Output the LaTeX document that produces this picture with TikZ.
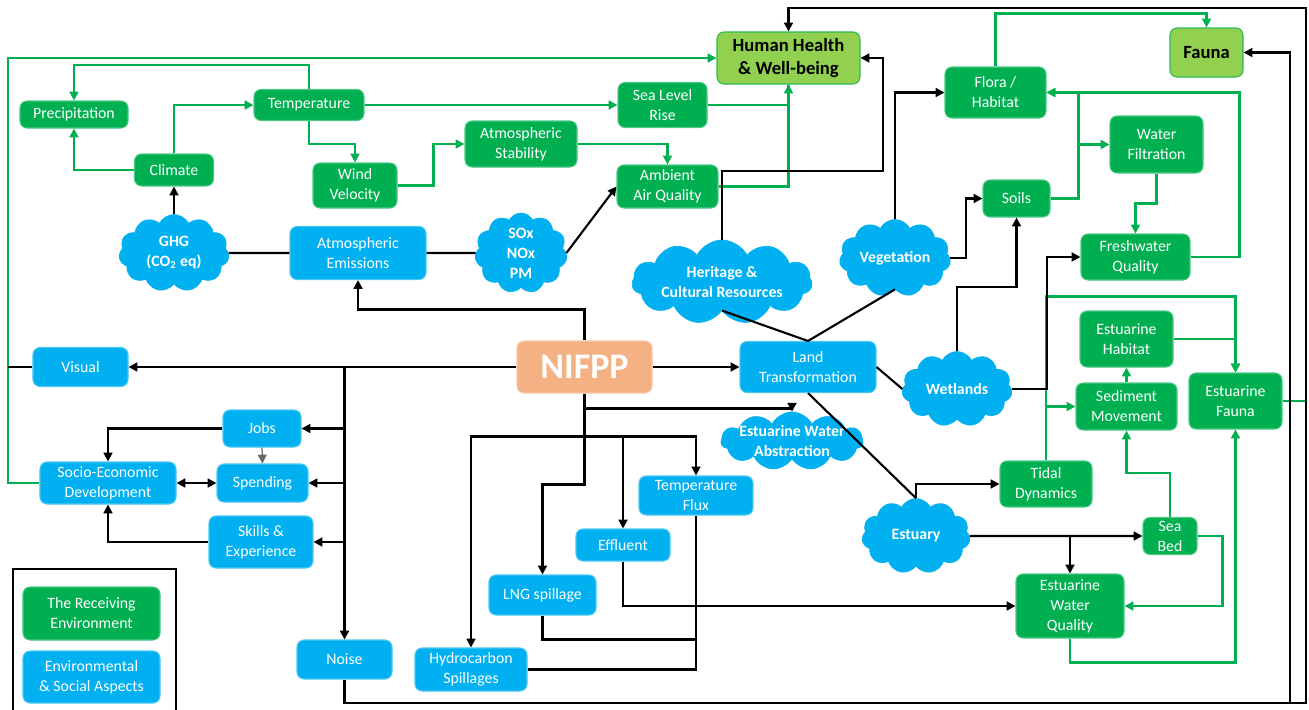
\documentclass[tikz,border=0pt]{standalone}
\usepackage{fontspec}
\setmainfont{Carlito}
\usetikzlibrary{arrows.meta,shapes.symbols}

\definecolor{gruen}{RGB}{0,176,80}
\definecolor{hellgruen}{RGB}{146,208,80}
\definecolor{blau}{RGB}{0,176,240}
\definecolor{lachs}{RGB}{244,177,131}

\tikzset{
	kasten/.style={rounded corners=1.4mm, align=center, text=white, inner sep=1pt, line width=0.6pt, font=\fontsize{9}{11.4}\selectfont},
	gbox/.style={kasten, fill=gruen, draw=gruen!70!white},
	hbox/.style={kasten, fill=hellgruen, draw=gruen!70!hellgruen, text=black, font=\fontsize{10.6}{13}\selectfont\bfseries},
	bbox/.style={kasten, fill=blau, draw=blau!70!white},
	wolke/.style={cloud, cloud puffs=11, cloud puff arc=125, cloud ignores aspect, fill=blau, draw=blau, inner sep=0pt},
	wtext/.style={text=white, align=center, font=\fontsize{9}{11.4}\selectfont\bfseries},
	pfeil/.style={-{Triangle[length=5pt,width=5pt]}},
	dpfeil/.style={{Triangle[length=5pt,width=5pt]}-{Triangle[length=5pt,width=5pt]}},
	gl/.style={draw=gruen, line width=1.2pt},
	bl/.style={draw=black, line width=1.2pt},
}

\begin{document}
\begin{tikzpicture}[x=0.2mm, y=-0.2mm]
	\useasboundingbox (0,0) rectangle (1309,709);
	\coordinate (leftrail) at (8,0);
	\coordinate (rightrail) at (1306,0);

	% Klima und Luft
	\node[gbox, minimum width=21.6mm, minimum height=5.4mm] (precip) at (74,114.5) {Precipitation};
	\node[gbox, minimum width=22mm, minimum height=6.2mm] (temp) at (309,105) {Temperature};
	\node[gbox, minimum width=15.8mm, minimum height=6.4mm] (climate) at (174,170) {Climate};
	\node[gbox, minimum width=16.8mm, minimum height=9mm] (wind) at (355,185.5) {Wind\\Velocity};
	\node[gbox, minimum width=22.4mm, minimum height=9.2mm] (atmstab) at (521,144) {Atmospheric\\Stability};
	\node[gbox, minimum width=17.8mm, minimum height=9mm] (sealevel) at (662.5,105) {Sea Level\\Rise};
	\node[gbox, minimum width=20.2mm, minimum height=8.6mm] (ambient) at (667.5,186.5) {Ambient\\Air Quality};
	\node[hbox, minimum width=28.6mm, minimum height=10.4mm] (health) at (788.5,58) {Human Health\\\& Well-being};

	% Boden, Wasser, Fauna
	\node[hbox, minimum width=14.6mm, minimum height=9.8mm] (fauna) at (1206.5,52.5) {Fauna};
	\node[gbox, minimum width=20.2mm, minimum height=10.2mm] (flora) at (995.5,92.5) {Flora /\\Habitat};
	\node[gbox, minimum width=18.6mm, minimum height=11.4mm] (waterfilt) at (1156.5,144.5) {Water\\Filtration};
	\node[gbox, minimum width=13.4mm, minimum height=7.4mm] (soils) at (1016.5,198.5) {Soils};
	\node[gbox, minimum width=21.8mm, minimum height=9.2mm] (freshwater) at (1135.5,257) {Freshwater\\Quality};
	\node[gbox, minimum width=18.6mm, minimum height=11.2mm] (esthab) at (1126.5,339) {Estuarine\\Habitat};
	\node[gbox, minimum width=20.2mm, minimum height=9.4mm] (sediment) at (1126.5,406.5) {Sediment\\Movement};
	\node[gbox, minimum width=18.6mm, minimum height=11.2mm] (estfauna) at (1235.5,401) {Estuarine\\Fauna};
	\node[gbox, minimum width=18.4mm, minimum height=9.2mm] (tidal) at (1046,484) {Tidal\\Dynamics};
	\node[gbox, minimum width=10.8mm, minimum height=7.4mm] (seabed) at (1170,536) {Sea\\Bed};
	\node[gbox, minimum width=21.6mm, minimum height=12.8mm] (ewq) at (1070,606) {Estuarine\\Water\\Quality};

	% Projekt und Aspekte
	\node[kasten, fill=lachs, draw=lachs!70!white, minimum width=27mm, minimum height=10.4mm, font=\fontsize{20.5}{24}\selectfont\bfseries] (nifpp) at (584.5,367) {NIFPP};
	\node[bbox, minimum width=27.2mm, minimum height=10.6mm] (atmem) at (358,253) {Atmospheric\\Emissions};
	\node[bbox, minimum width=19mm, minimum height=7.8mm] (visual) at (80.5,367) {Visual};
	\node[bbox, minimum width=15.6mm, minimum height=7.4mm] (jobs) at (262,428.5) {Jobs};
	\node[bbox, minimum width=27.2mm, minimum height=8.4mm] (socio) at (108,483) {Socio-Economic\\Development};
	\node[bbox, minimum width=18.2mm, minimum height=7.6mm] (spending) at (262.5,483) {Spending};
	\node[bbox, minimum width=20.8mm, minimum height=10.4mm] (skills) at (261,542) {Skills \&\\Experience};
	\node[bbox, minimum width=19mm, minimum height=7.8mm] (noise) at (344.5,659.5) {Noise};
	\node[bbox, minimum width=22.4mm, minimum height=8.6mm] (hydro) at (471,669.5) {Hydrocarbon\\Spillages};
	\node[bbox, minimum width=21.4mm, minimum height=8mm] (lng) at (542.5,595) {LNG spillage};
	\node[bbox, minimum width=18.8mm, minimum height=6.4mm] (effluent) at (623,545) {Effluent};
	\node[bbox, minimum width=22.8mm, minimum height=7.8mm] (tempflux) at (696,495.5) {Temperature\\Flux};
	\node[bbox, minimum width=27.2mm, minimum height=10.2mm] (landtr) at (808,367) {Land\\Transformation};

	% Wolken
	\node[wolke, minimum width=22mm, minimum height=15.4mm, label={[wtext]center:GHG\\(CO\textsubscript{2} eq)}] (ghg) at (174,253) {};
	\node[wolke, minimum width=18.4mm, minimum height=16mm, label={[wtext]center:SOx\\NOx\\PM}] (sox) at (521,253) {};
	\node[wolke, minimum width=36mm, minimum height=16.8mm, label={[wtext]center:Heritage \&\\Cultural Resources}] (heritage) at (722,282) {};
	\node[wolke, minimum width=22.2mm, minimum height=15.4mm, label={[wtext]center:Vegetation}] (veget) at (895,258) {};
	\node[wolke, minimum width=22mm, minimum height=15mm, label={[wtext]center:Wetlands}] (wetlands) at (957,389) {};
	\node[wolke, minimum width=28.4mm, minimum height=11.6mm, label={[wtext]center:Estuarine Water\\Abstraction}] (abstr) at (792,441) {};
	\node[wolke, minimum width=21.6mm, minimum height=15mm, label={[wtext]center:Estuary}] (estuary) at (916,536) {};

	% Legende
	\draw[line width=1.2pt] (13,712) |- (176,569) -- (176,712);
	\node[gbox, minimum width=27.4mm, minimum height=10.6mm] (legrecv) at (91.5,613.5) {The Receiving\\Environment};
	\node[bbox, minimum width=27.4mm, minimum height=10.4mm] (legasp) at (91.5,677) {Environmental\\\& Social Aspects};

	% gruene Verbindungen
	\draw[gl, pfeil] (climate.west) -| (precip.south);
	\draw[gl, pfeil] (temp.north) -- ++(0,-24) -| (precip.north);
	\draw[gl, pfeil] (climate.north) |- (temp.west);
	\draw[gl, pfeil] (temp.south) -- ++(0,23) -| (wind.north);
	\draw[gl, pfeil] (wind.east) -- ++(36,0) |- (atmstab.west);
	\draw[gl, pfeil] (temp.east) -- (sealevel.west);
	\draw[gl, pfeil] (atmstab.east) -| (ambient.north);
	\draw[gl] (sealevel.east) -| (health.south);
	\draw[gl, pfeil] (ambient.east) -| (health.south);
	\draw[gl, pfeil] (socio.west) -- (socio.west -| leftrail) |- (health.west);
	\draw[gl, pfeil] (flora.north) -- ++(0,-53) -| (fauna.north);
	\draw[gl, pfeil] (soils.east) -- ++(28,0) |- (flora.east);
	\draw[gl, pfeil] (soils.east) -- ++(28,0) |- (waterfilt.west);
	\draw[gl, pfeil] (freshwater.east) -- ++(49,0) |- (flora.east);
	\draw[gl, pfeil] (waterfilt.south) -- ++(0,30) -| (freshwater.north);
	\draw[gl, pfeil] (tidal.north) -- ++(0,-164) -| (estfauna.north);
	\draw[gl, pfeil] (tidal.north) |- (sediment.west);
	\draw[gl, pfeil] (sediment.north) -- (esthab.south);
	\draw[gl, pfeil] (esthab.east) -| (estfauna.north);
	\draw[gl, pfeil] (seabed.north) -- ++(0,-44) -| (sediment.south);
	\draw[gl, pfeil] (seabed.east) -- ++(25,0) |- (ewq.east);
	\draw[gl, pfeil] (ewq.south) -- ++(0,24) -| (estfauna.south);
	\draw[gl] (estfauna.east) -- (estfauna.east -| rightrail);

	% schwarze Verbindungen
	\draw[bl, pfeil] (ghg.north) -- (climate.south);
	\draw[bl] (ghg.east) -- (atmem.west);
	\draw[bl] (atmem.east) -- (sox.west);
	\draw[bl, pfeil] (sox.east) -- (ambient.west);
	\draw[bl, pfeil] (nifpp.north) -- ++(0,-31) -| (atmem.south);
	\draw[bl, pfeil] (nifpp.west) -- (visual.east);
	\draw[bl, pfeil] (nifpp.east) -- (landtr.west);
	\draw[bl, pfeil] (nifpp.south) -- ++(0,15) -| (abstr.north);
	\draw[bl, pfeil] (nifpp.south) -- ++(0,91) -| (lng.north);
	\draw[bl, pfeil] (nifpp.south) -- ++(0,43) -| (hydro.north);
	\draw[bl, pfeil] (nifpp.south) -- ++(0,43) -| (effluent.north);
	\draw[bl, pfeil] (nifpp.south) -- ++(0,43) -| (tempflux.north);
	\draw[bl, pfeil, line width=1.6pt] (nifpp.west) -| (noise.north);
	\draw[bl, pfeil] (noise.north |- jobs.east) -- (jobs.east);
	\draw[bl, pfeil] (noise.north |- spending.east) -- (spending.east);
	\draw[bl, pfeil] (noise.north |- skills.east) -- (skills.east);
	\draw[bl, pfeil] (jobs.west) -| (socio.north);
	\draw[pfeil, draw=black!60, line width=0.7pt] (jobs.south) -- (spending.north);
	\draw[bl, dpfeil] (socio.east) -- (spending.west);
	\draw[bl, pfeil] (skills.west) -| (socio.south);
	\draw[bl] (visual.west) -- (visual.west -| leftrail);
	\draw[bl, pfeil] (heritage.north) |- (883,171) |- (health.east);
	\draw[bl] (landtr.north) -- (heritage.south);
	\draw[bl] (landtr.north) -- (veget.south);
	\draw[bl, pfeil] (veget.north) |- (flora.west);
	\draw[bl, pfeil] (veget.east) -- ++(16,0) |- (soils.west);
	\draw[bl] (landtr.east) -- (wetlands.west);
	\draw[bl, pfeil] (wetlands.north) |- (soils.south |- 0,287) -- (soils.south);
	\draw[bl, pfeil] (wetlands.east) -- ++(35,0) |- (freshwater.west);
	\draw[bl] (landtr.south) -- (estuary.north);
	\draw[bl, pfeil] (estuary.north) |- (tidal.west);
	\draw[bl, pfeil] (estuary.east) -- (seabed.west);
	\draw[bl, pfeil] (estuary.east -| ewq.north) -- (ewq.north);
	\draw[bl, pfeil] (effluent.south) |- (ewq.west);
	\draw[bl] (hydro.east) -| (tempflux.south);
	\draw[bl] (lng.south) -- ++(0,24) -| (tempflux.south);
	\draw[bl, pfeil] (noise.south) |- (rightrail |- 0,703) -- (rightrail |- 0,8) -| (health.north);
	\draw[bl, pfeil] (noise.south) |- (1290,703) |- (fauna.east);
\end{tikzpicture}
\end{document}
